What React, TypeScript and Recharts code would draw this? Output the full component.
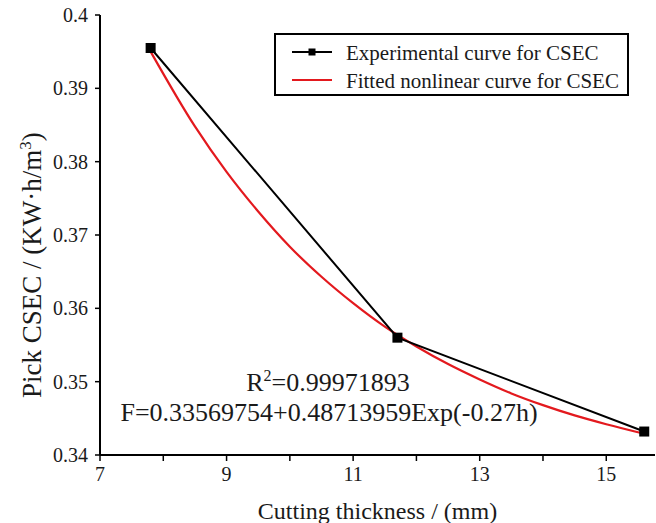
import React from 'react';
import { LineChart, Line, XAxis, YAxis, Label } from 'recharts';

const expH = [7.8, 11.7, 15.6];
const expCsec = [0.3955, 0.356, 0.3432];

const fitH = [7.8, 8.5, 9, 9.5, 10, 10.5, 11, 11.5, 12, 12.5, 13, 13.5, 14, 14.5, 15, 15.6];
const fitCsec = [0.395, 0.3848, 0.3786, 0.3732, 0.3684, 0.3643, 0.3607, 0.3575, 0.3548, 0.3524, 0.3503, 0.3484, 0.3468, 0.3454, 0.3442, 0.3429];

const xTicks = [7, 8, 9, 10, 11, 12, 13, 14, 15];
const yTicks = [0.34, 0.35, 0.36, 0.37, 0.38, 0.39, 0.4];

const expData = expH.map((h, i) => ({ h, v: expCsec[i] }));
const fitData = fitH.map((h, i) => ({ h, v: fitCsec[i] }));

const FONT = '"Liberation Serif", "Times New Roman", serif';
const INK = '#1a1a1a';
const RED = '#e3191e';

// only odd ticks carry a label, even ones are minor
const XTick = (props: any) => {
  const { x, y, payload } = props;
  if (payload.value % 2 !== 1) return null;
  return (
    <text x={x} y={y} dy={18} textAnchor="middle" fontSize={20} fontFamily={FONT} fill={INK}>
      {payload.value}
    </text>
  );
};

const XTitle = (props: any) => {
  const { viewBox } = props;
  const cx = viewBox.x + viewBox.width / 2;
  return (
    <text x={cx} y={519} textAnchor="middle" fontSize={24} fontFamily={FONT} fill={INK}>
      Cutting thickness / (mm)
    </text>
  );
};

// rotated title, anchored at its start (bottom end) so the tspans can't shift it
const YTitle = () => (
  <text transform="translate(41, 398) rotate(-90)" textAnchor="start" fontSize={27} fontFamily={FONT} fill={INK}>
    Pick CSEC / (KW·h/m<tspan dy={-10} fontSize={17}>3</tspan><tspan dy={10}>)</tspan>
  </text>
);

const SquareDot = (props: any) => {
  const { cx, cy, index } = props;
  return <rect key={index} x={cx - 5} y={cy - 5} width={10} height={10} fill="#000" />;
};

export default function App() {
  return (
    <div style={{ position: 'absolute', left: 0, top: 0, width: 656, height: 523, background: '#fff' }}>
      <LineChart width={656} height={523} margin={{ top: 15, right: 1, bottom: 0, left: 0 }}>
        <XAxis
          type="number" dataKey="h" domain={[7, 15.77]} ticks={xTicks} allowDataOverflow
          height={68} tickSize={6} tickMargin={2}
          axisLine={{ stroke: '#000', strokeWidth: 2 }} tickLine={{ stroke: '#000', strokeWidth: 1.5 }}
          tick={<XTick />}
        >
          <Label content={<XTitle />} />
        </XAxis>
        <YAxis
          type="number" domain={[0.34, 0.4]} ticks={yTicks} width={100}
          tickSize={5} tickMargin={7}
          axisLine={{ stroke: '#000', strokeWidth: 2 }} tickLine={{ stroke: '#000', strokeWidth: 1.5 }}
          tick={{ fontSize: 20, fontFamily: FONT, fill: INK }}
          tickFormatter={(v: number) => (v === 0.4 ? '0.4' : v.toFixed(2))}
        >
          <Label content={<YTitle />} />
        </YAxis>
        <Line data={fitData} dataKey="v" type="monotone" stroke={RED} strokeWidth={2.2} dot={false} isAnimationActive={false} />
        <Line data={expData} dataKey="v" type="linear" stroke="#000" strokeWidth={2} dot={<SquareDot />} isAnimationActive={false} />
      </LineChart>

      <svg width={656} height={523} style={{ position: 'absolute', left: 0, top: 0, pointerEvents: 'none' }}>
        <g fontFamily={FONT} fill={INK}>
          <text x={328} y={391} textAnchor="middle" fontSize={26}>
            R<tspan dy={-10} fontSize={16}>2</tspan><tspan dy={10}>=0.99971893</tspan>
          </text>
          <text x={329} y={421} textAnchor="middle" fontSize={26}>
            F=0.33569754+0.48713959Exp(-0.27h)
          </text>
        </g>
        <g>
          <rect x={275} y={34} width={353} height={61} fill="#fff" stroke="#000" strokeWidth={2} />
          <line x1={292} y1={52} x2={332} y2={52} stroke="#000" strokeWidth={2} />
          <rect x={308.5} y={48.5} width={7} height={7} fill="#000" />
          <line x1={292} y1={80} x2={332} y2={80} stroke={RED} strokeWidth={1.8} />
          <text x={346} y={60} fontSize={21} fontFamily={FONT} fill={INK}>Experimental curve for CSEC</text>
          <text x={346} y={88} fontSize={21} fontFamily={FONT} fill={INK}>Fitted nonlinear curve for CSEC</text>
        </g>
      </svg>
    </div>
  );
}
